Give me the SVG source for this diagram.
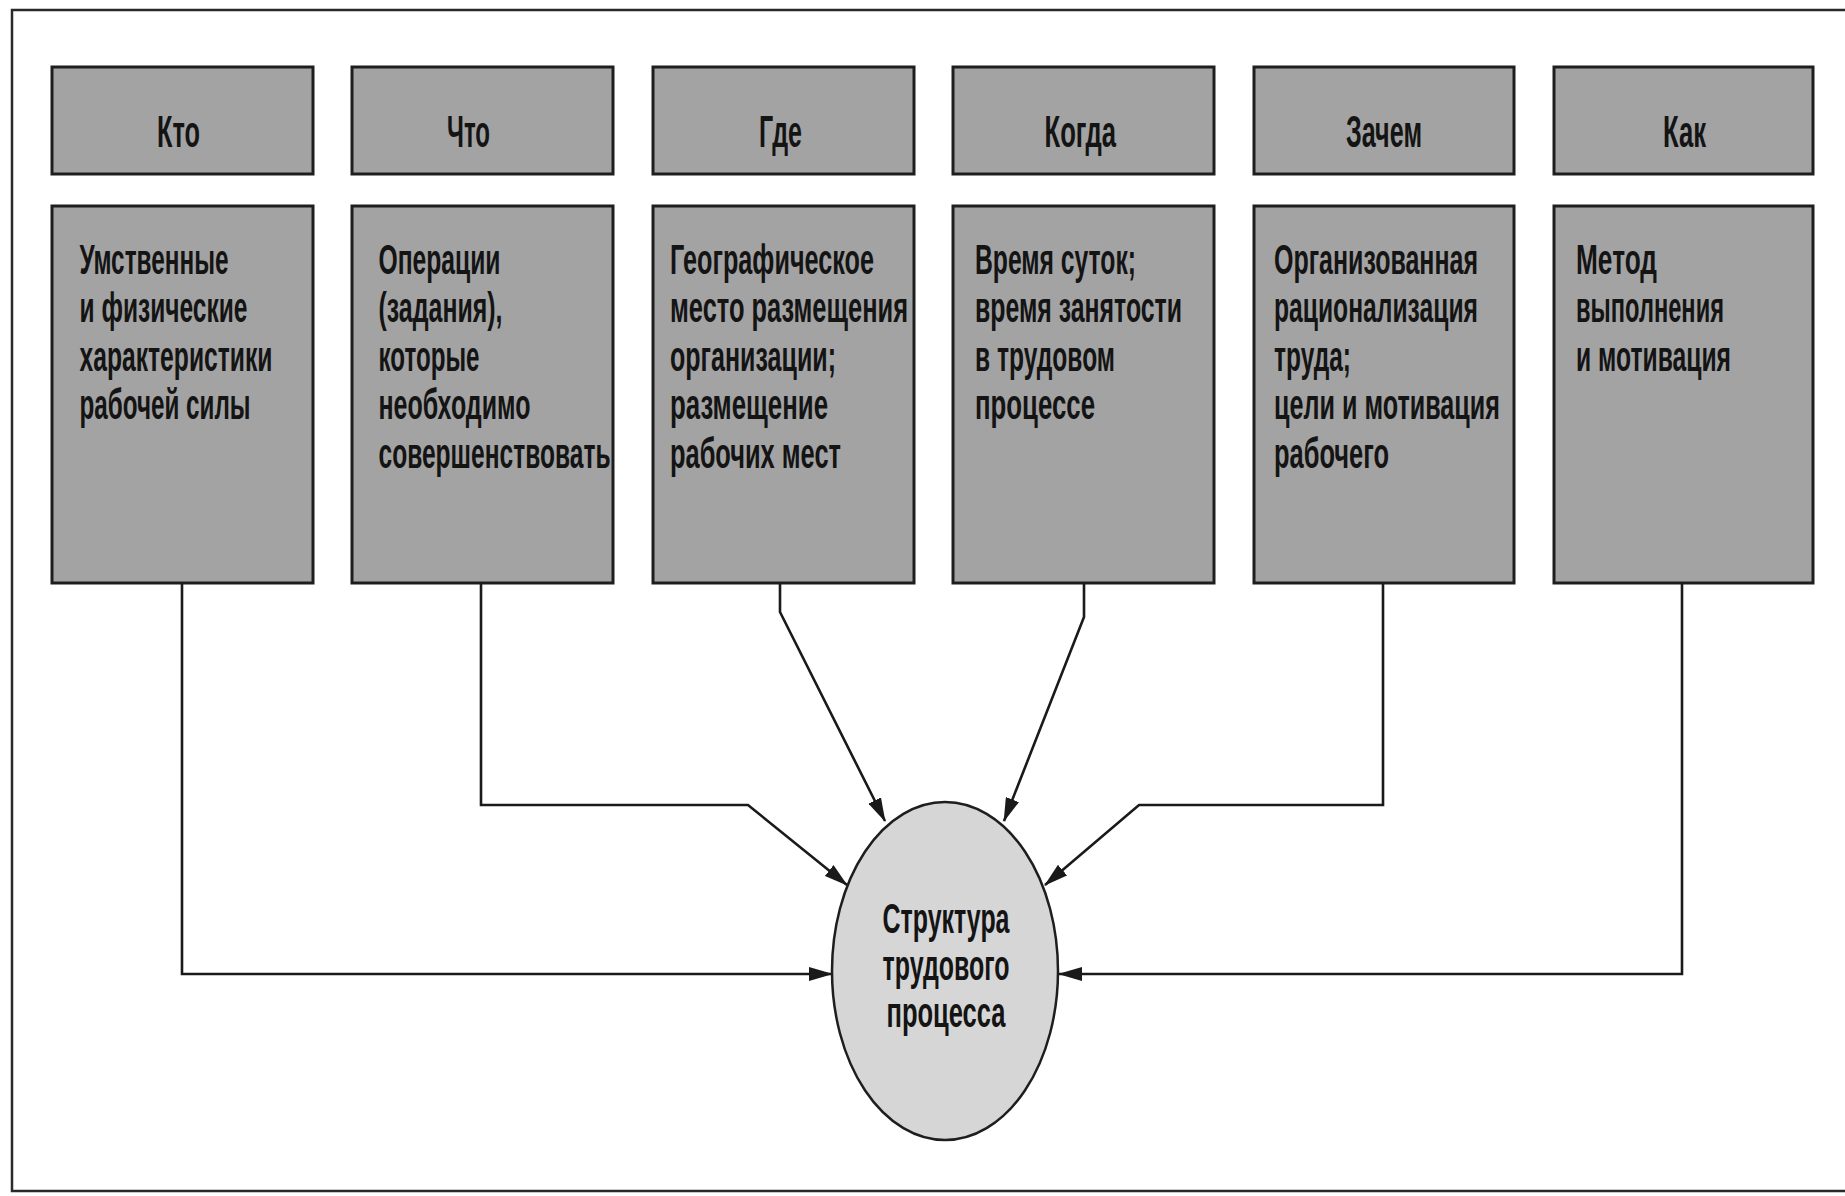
<svg xmlns="http://www.w3.org/2000/svg" width="1845" height="1196" viewBox="0 0 1845 1196">
<defs>
<style>
.box{fill:#a3a3a3;stroke:#1e1e1e;stroke-width:3}
.ell{fill:#d6d6d6;stroke:#1e1e1e;stroke-width:2.5}
.t{font-family:"Liberation Sans",Arial,sans-serif;font-weight:bold;fill:#141414}
.h{font-size:45px}
.b{font-size:43px}
.e{font-size:42px}
.ln{fill:none;stroke:#1a1a1a;stroke-width:2.6;stroke-linejoin:miter}
.frame{fill:none;stroke:#2a2a2a;stroke-width:2.5}
</style>
<marker id="arr" markerUnits="userSpaceOnUse" markerWidth="24" markerHeight="14" refX="23" refY="7" orient="auto">
<path d="M0,0 L24,7 L0,14 Z" fill="#1a1a1a"/>
</marker>
</defs>
<rect width="1845" height="1196" fill="#ffffff"/>
<path class="frame" d="M1846,10 H12 V1191 H1846"/>

<g id="connectors">
<path class="ln" d="M182,583 V974 H832" marker-end="url(#arr)"/>
<path class="ln" d="M481,583 V805 H748 L847,885" marker-end="url(#arr)"/>
<path class="ln" d="M780,583 V612 L885,821" marker-end="url(#arr)"/>
<path class="ln" d="M1084,583 V617 L1004,821" marker-end="url(#arr)"/>
<path class="ln" d="M1383,583 V805 H1139 L1045,885" marker-end="url(#arr)"/>
<path class="ln" d="M1682,583 V974 H1059" marker-end="url(#arr)"/>
</g>

<g id="node-kto-head"><rect class="box" x="52" y="67" width="261" height="107"/>
<text class="t h" x="157" y="147" textLength="43" lengthAdjust="spacingAndGlyphs">Кто</text></g>
<g id="node-chto-head"><rect class="box" x="352" y="67" width="261" height="107"/>
<text class="t h" x="447" y="147" textLength="43" lengthAdjust="spacingAndGlyphs">Что</text></g>
<g id="node-gde-head"><rect class="box" x="653" y="67" width="261" height="107"/>
<text class="t h" x="759" y="147" textLength="43" lengthAdjust="spacingAndGlyphs">Где</text></g>
<g id="node-kogda-head"><rect class="box" x="953" y="67" width="261" height="107"/>
<text class="t h" x="1044.5" y="147" textLength="71.5" lengthAdjust="spacingAndGlyphs">Когда</text></g>
<g id="node-zachem-head"><rect class="box" x="1254" y="67" width="260" height="107"/>
<text class="t h" x="1346" y="147" textLength="76" lengthAdjust="spacingAndGlyphs">Зачем</text></g>
<g id="node-kak-head"><rect class="box" x="1554" y="67" width="259" height="107"/>
<text class="t h" x="1663" y="147" textLength="43" lengthAdjust="spacingAndGlyphs">Как</text></g>

<g id="node-kto-body"><rect class="box" x="52" y="206" width="261" height="377"/>
<text class="t b" x="79.5" y="273.5" textLength="149" lengthAdjust="spacingAndGlyphs">Умственные</text>
<text class="t b" x="79.5" y="322" textLength="168" lengthAdjust="spacingAndGlyphs">и физические</text>
<text class="t b" x="79.5" y="370.5" textLength="193" lengthAdjust="spacingAndGlyphs">характеристики</text>
<text class="t b" x="79.5" y="419" textLength="171" lengthAdjust="spacingAndGlyphs">рабочей силы</text></g>

<g id="node-chto-body"><rect class="box" x="352" y="206" width="261" height="377"/>
<text class="t b" x="378.5" y="273.5" textLength="122" lengthAdjust="spacingAndGlyphs">Операции</text>
<text class="t b" x="378.5" y="322" textLength="124" lengthAdjust="spacingAndGlyphs">(задания),</text>
<text class="t b" x="378.5" y="370.5" textLength="101" lengthAdjust="spacingAndGlyphs">которые</text>
<text class="t b" x="378.5" y="419" textLength="152" lengthAdjust="spacingAndGlyphs">необходимо</text>
<text class="t b" x="378.5" y="467.5" textLength="232" lengthAdjust="spacingAndGlyphs">совершенствовать</text></g>

<g id="node-gde-body"><rect class="box" x="653" y="206" width="261" height="377"/>
<text class="t b" x="670" y="273.5" textLength="204" lengthAdjust="spacingAndGlyphs">Географическое</text>
<text class="t b" x="670" y="322" textLength="238" lengthAdjust="spacingAndGlyphs">место размещения</text>
<text class="t b" x="670" y="370.5" textLength="166" lengthAdjust="spacingAndGlyphs">организации;</text>
<text class="t b" x="670" y="419" textLength="158" lengthAdjust="spacingAndGlyphs">размещение</text>
<text class="t b" x="670" y="467.5" textLength="171" lengthAdjust="spacingAndGlyphs">рабочих мест</text></g>

<g id="node-kogda-body"><rect class="box" x="953" y="206" width="261" height="377"/>
<text class="t b" x="975" y="273.5" textLength="161" lengthAdjust="spacingAndGlyphs">Время суток;</text>
<text class="t b" x="975" y="322" textLength="207" lengthAdjust="spacingAndGlyphs">время занятости</text>
<text class="t b" x="975" y="370.5" textLength="140" lengthAdjust="spacingAndGlyphs">в трудовом</text>
<text class="t b" x="975" y="419" textLength="120" lengthAdjust="spacingAndGlyphs">процессе</text></g>

<g id="node-zachem-body"><rect class="box" x="1254" y="206" width="260" height="377"/>
<text class="t b" x="1274" y="273.5" textLength="204" lengthAdjust="spacingAndGlyphs">Организованная</text>
<text class="t b" x="1274" y="322" textLength="204" lengthAdjust="spacingAndGlyphs">рационализация</text>
<text class="t b" x="1274" y="370.5" textLength="77" lengthAdjust="spacingAndGlyphs">труда;</text>
<text class="t b" x="1274" y="419" textLength="226" lengthAdjust="spacingAndGlyphs">цели и мотивация</text>
<text class="t b" x="1274" y="467.5" textLength="115" lengthAdjust="spacingAndGlyphs">рабочего</text></g>

<g id="node-kak-body"><rect class="box" x="1554" y="206" width="259" height="377"/>
<text class="t b" x="1576" y="273.5" textLength="81" lengthAdjust="spacingAndGlyphs">Метод</text>
<text class="t b" x="1576" y="322" textLength="148" lengthAdjust="spacingAndGlyphs">выполнения</text>
<text class="t b" x="1576" y="370.5" textLength="155" lengthAdjust="spacingAndGlyphs">и мотивация</text></g>

<g id="node-structure"><ellipse class="ell" cx="945" cy="971" rx="113" ry="169"/>
<text class="t e" x="882.5" y="933" textLength="127" lengthAdjust="spacingAndGlyphs">Структура</text>
<text class="t e" x="882.5" y="980" textLength="127" lengthAdjust="spacingAndGlyphs">трудового</text>
<text class="t e" x="886.5" y="1027" textLength="119" lengthAdjust="spacingAndGlyphs">процесса</text></g>
</svg>
